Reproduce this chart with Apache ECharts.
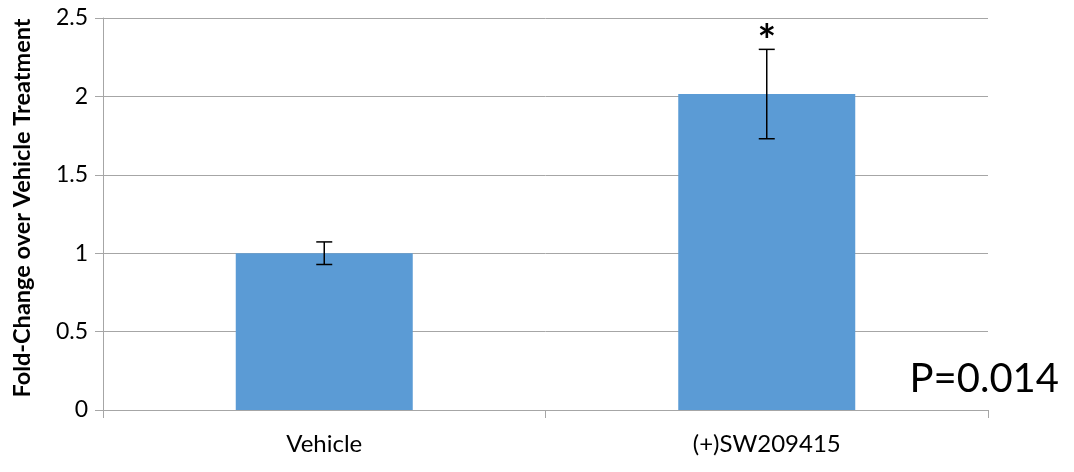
<!DOCTYPE html>
<html>
<head>
<meta charset="utf-8">
<title>Fold-Change over Vehicle Treatment</title>
<script src="https://cdn.jsdelivr.net/npm/echarts@6/dist/echarts.min.js"></script>
<style>
  html, body { margin: 0; padding: 0; background: #fff; }
  #chart { width: 1074px; height: 472px; }
</style>
</head>
<body>
<div id="chart"></div>
<script>
// Treatment groups along the x axis
const categories = ['Vehicle', '(+)SW209415'];
// Mean fold-change per group
const foldChange = [1.0, 2.015];
// Symmetric error (± value) per group
const errorBars = [0.072, 0.285];
// Significance marker drawn above each error bar
const sigMarks = ['', '*'];
// Value axis ticks
const yMin = 0;
const yMax = 2.5;
const yInterval = 0.5;
const pValueText = 'P=0.014';

const FONT = 'Lato, "Open Sans", sans-serif';
const GRID_GRAY = '#a6a6a6';

const errorData = categories.map((c, i) => [i, foldChange[i] - errorBars[i], foldChange[i] + errorBars[i], sigMarks[i]]);

const chart = echarts.init(document.getElementById('chart'), null, { renderer: 'canvas' });

chart.setOption({
  animation: false,
  backgroundColor: '#ffffff',
  textStyle: { fontFamily: FONT },
  title: {
    text: pValueText,
    right: 10,
    top: 354,
    textStyle: { fontFamily: FONT, fontSize: 40, fontWeight: 'normal', color: '#000' }
  },
  grid: { left: 103, right: 86, top: 18, bottom: 62, containLabel: false },
  xAxis: {
    type: 'category',
    data: categories,
    boundaryGap: true,
    axisLine: { show: true, lineStyle: { color: GRID_GRAY, width: 1 } },
    axisTick: { show: true, length: 8, interval: 0, lineStyle: { color: GRID_GRAY } },
    axisLabel: { color: '#000', fontSize: 24, margin: 22, fontFamily: FONT },
    splitLine: { show: false }
  },
  yAxis: {
    type: 'value',
    min: yMin,
    max: yMax,
    interval: yInterval,
    name: 'Fold-Change over Vehicle Treatment',
    nameLocation: 'middle',
    nameRotate: 90,
    nameGap: 69,
    nameTextStyle: { color: '#000', fontSize: 23.5, fontWeight: 'bold', fontFamily: FONT, padding: [0, 0, 0, 12] },
    axisLine: { show: true, lineStyle: { color: GRID_GRAY, width: 1 } },
    axisTick: { show: true, length: 8, lineStyle: { color: GRID_GRAY } },
    axisLabel: { color: '#000', fontSize: 23, margin: 15, fontFamily: FONT },
    splitLine: { show: true, lineStyle: { color: GRID_GRAY, width: 1 } }
  },
  series: [
    {
      type: 'bar',
      data: foldChange,
      barWidth: '40%',
      itemStyle: { color: '#5b9bd5' },
      z: 2
    },
    {
      type: 'custom',
      data: errorData,
      z: 5,
      renderItem: function (params, api) {
        const x = api.value(0);
        const lo = api.coord([x, api.value(1)]);
        const hi = api.coord([x, api.value(2)]);
        const cap = 8;
        const style = { stroke: '#000', lineWidth: 1.5 };
        const children = [
          { type: 'line', shape: { x1: hi[0], y1: hi[1], x2: lo[0], y2: lo[1] }, style: style },
          { type: 'line', shape: { x1: hi[0] - cap, y1: hi[1], x2: hi[0] + cap, y2: hi[1] }, style: style },
          { type: 'line', shape: { x1: lo[0] - cap, y1: lo[1], x2: lo[0] + cap, y2: lo[1] }, style: style }
        ];
        const mark = api.value(3);
        if (mark) {
          children.push({
            type: 'text',
            x: hi[0],
            y: hi[1] + 14,
            style: {
              text: mark,
              fill: '#000',
              font: 'bold 44px ' + FONT,
              align: 'center',
              verticalAlign: 'bottom'
            }
          });
        }
        return { type: 'group', children: children };
      }
    }
  ]
});
</script>
</body>
</html>
